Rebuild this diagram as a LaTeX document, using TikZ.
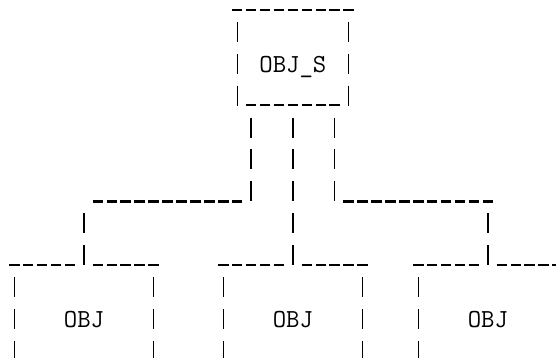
\documentclass[tikz,border=0pt]{standalone}
\begin{document}
\begin{tikzpicture}[x=13.93pt, y=-31.9pt,
  hd/.style={line width=2.5pt, dash pattern=on 10.5pt off 3.43pt},
  us/.style={line width=1.3pt, dash pattern=on 10.5pt off 3.43pt},
  vp/.style={line width=1.3pt, dash pattern=on 20pt off 11.9pt},
  lbl/.style={anchor=base, inner sep=0pt, font=\fontsize{26}{31}\selectfont\ttfamily}]
\useasboundingbox (0pt,0pt) rectangle (556pt,-358pt);
\clip (0pt,0pt) rectangle (556pt,-358pt);
\begin{scope}[xshift=14.3pt]
  % labels
  \node[lbl] (S)  at (20, 2.279)  {OBJ\_S};
  \node[lbl] (o1) at (5, 10.279)  {OBJ};
  \node[lbl] (o2) at (20, 10.279) {OBJ};
  \node[lbl] (o3) at (34, 10.279) {OBJ};
  % box around OBJ_S
  \coordinate (Stl) at (15.6231, 0.3135);
  \coordinate (Str) at (24.3769, 0.3135);
  \draw[hd] (Stl) -- (Str);
  \draw[vp] (16, 0.6865) -- (16, 3.3135);
  \draw[vp] (24, 0.6865) -- (24, 3.3135);
  \draw[us] (16.6231, 3.29) -- (23.3769, 3.29);
  % connectors from OBJ_S
  \coordinate (sL) at (17, 3.6865);
  \coordinate (sM) at (20, 3.6865);
  \coordinate (sR) at (23, 3.6865);
  \coordinate (kL) at (17, 6.3135);
  \coordinate (kR) at (23, 6.3135);
  \coordinate (tL) at (5, 6.6865);
  \coordinate (tR) at (34, 6.6865);
  \coordinate (eL) at (5, 8.3135);
  \coordinate (eM) at (20, 8.3135);
  \coordinate (eR) at (34, 8.3135);
  \draw[vp] (sL) -- (kL);
  \draw[hd] (5.6231, 6.3135) -- (16.3769, 6.3135);
  \draw[vp] (tL) -- (eL);
  \draw[vp] (sM) -- (eM);
  \draw[vp] (sR) -- (kR);
  \draw[hd] (23.6231, 6.3135) -- (34.3769, 6.3135);
  \draw[vp] (tR) -- (eR);
  % OBJ boxes
  \foreach \c in {5,20,34} {
    \draw[hd] ({\c-5.3769}, 8.3135) -- ({\c-0.6231}, 8.3135);
    \draw[hd] ({\c+0.6231}, 8.3135) -- ({\c+5.3769}, 8.3135);
    \draw[vp] ({\c-5}, 8.6865) -- ({\c-5}, 11.3135);
    \draw[vp] ({\c+5}, 8.6865) -- ({\c+5}, 11.3135);
  }
\end{scope}
\end{tikzpicture}
\end{document}
